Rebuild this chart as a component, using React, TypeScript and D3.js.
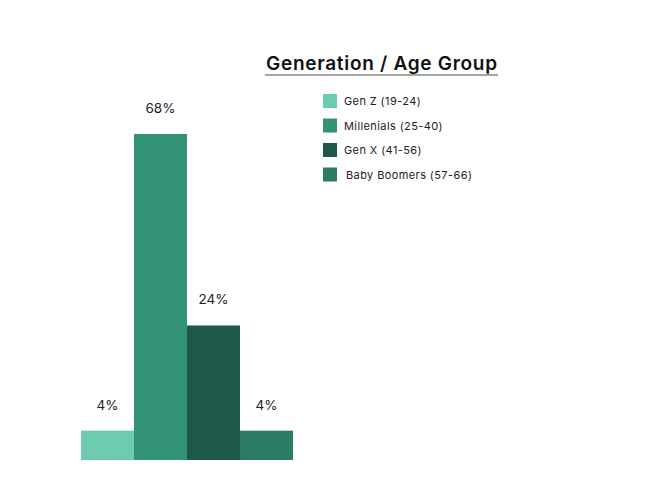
import React, { useEffect, useRef } from 'react'
import * as d3 from 'd3'

const categories = ['Gen Z (19-24)', 'Millenials (25-40)', 'Gen X (41-56)', 'Baby Boomers (57-66)']
const shares = [4, 68, 24, 4]
const shareLabels = ['4%', '68%', '24%', '4%']
const colors = ['#6dcbb0', '#339377', '#1e584a', '#2c7b65']

const width = 656
const height = 500
const font = 'Inter, "Noto Sans", sans-serif'

export default function App() {
    const svgRef = useRef<SVGSVGElement>(null)

    useEffect(() => {
        document.body.style.margin = '0'
        if (!svgRef.current) return

        const svg = d3.select(svgRef.current)
        svg.selectAll('*').remove()

        const plot = { left: 81, right: 293, top: 134, bottom: 460 }

        const x = d3.scaleBand()
            .domain(categories)
            .range([plot.left, plot.right])
            .padding(0)

        // bars in the source are not linear with their labels; a power scale fits them
        const y = d3.scalePow()
            .exponent(0.85)
            .domain([0, d3.max(shares) || 0])
            .range([plot.bottom, plot.top])

        const g = svg.append('g')

        g.selectAll('.bar')
            .data(shares)
            .enter().append('rect')
            .attr('class', 'bar')
            .attr('x', (_, i) => x(categories[i]) || 0)
            .attr('y', d => y(d))
            .attr('width', x.bandwidth())
            .attr('height', d => plot.bottom - y(d))
            .attr('fill', (_, i) => colors[i])

        g.selectAll('.label')
            .data(shares)
            .enter().append('text')
            .attr('class', 'label')
            .attr('x', (_, i) => (x(categories[i]) || 0) + x.bandwidth() / 2)
            .attr('y', d => y(d) - 21)
            .attr('text-anchor', 'middle')
            .attr('font-family', font)
            .attr('font-size', '13.5px')
            .attr('fill', '#222')
            .text((_, i) => shareLabels[i])

        // Legend title
        svg.append('text')
            .attr('x', 266)
            .attr('y', 70)
            .attr('font-family', font)
            .attr('font-weight', 600)
            .attr('font-size', '19px')
            .attr('textLength', 231)
            .attr('lengthAdjust', 'spacing')
            .attr('fill', '#111')
            .text('Generation / Age Group')
        svg.append('line')
            .attr('x1', 265)
            .attr('x2', 498)
            .attr('y1', 75)
            .attr('y2', 75)
            .attr('stroke', '#888')
            .attr('stroke-width', 1.5)

        const legend = svg.append('g')
            .attr('transform', 'translate(323,94)')

        const rows = legend.selectAll('.row')
            .data(categories)
            .enter().append('g')
            .attr('class', 'row')
            .attr('transform', (_, i) => `translate(0,${i * 24.5})`)

        rows.append('rect')
            .attr('width', 14)
            .attr('height', 14)
            .attr('fill', (_, i) => colors[i])

        rows.append('text')
            .attr('x', (_, i) => (i === 3 ? 23 : 21))
            .attr('y', 11)
            .attr('font-family', font)
            .attr('font-size', '11px')
            .attr('letter-spacing', '0.4px')
            .attr('fill', '#222')
            .text(d => d)
    }, [])

    return (
        <svg ref={svgRef} width={width} height={height} viewBox={`0 0 ${width} ${height}`} style={{ display: 'block' }} />
    )
}
